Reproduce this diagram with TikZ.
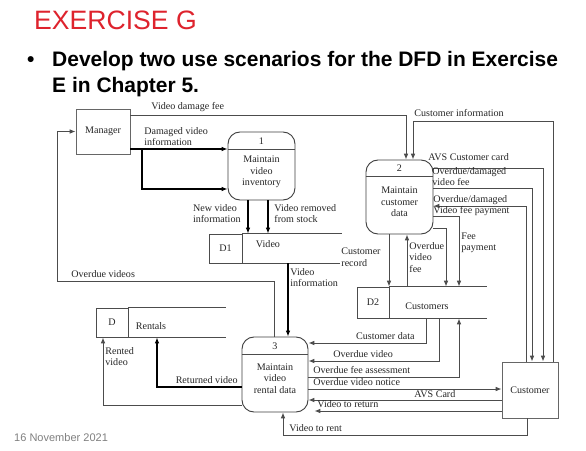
\documentclass[tikz,border=0pt]{standalone}
\usepackage{fontspec}
\setmainfont{Liberation Serif}
\newfontfamily\slidefont{Liberation Sans}
\usetikzlibrary{arrows.meta, positioning}
\definecolor{titlered}{RGB}{222,35,45}
\definecolor{footgray}{RGB}{128,128,128}

\begin{document}
\begin{tikzpicture}[x=0.03cm, y=-0.03cm,
    every node/.style={font=\fontsize{8.6}{9.8}\selectfont, text=black!85, inner sep=1pt},
    process/.style={rectangle, rounded corners=0.36cm, draw=black!75, line width=0.8pt, minimum width=2.01cm},
    entity/.style={rectangle, draw=black!60, line width=0.8pt},
    storeid/.style={rectangle, draw=black!70, line width=0.8pt, minimum width=0.96cm, minimum height=0.87cm},
    storeline/.style={draw=black!70, line width=0.8pt},
    lbl/.style={align=left},
    flow/.style={draw=black!70, line width=0.8pt, ->, >={Latex[length=5pt,width=4pt]}},
    bold flow/.style={flow, draw=black, line width=1.1pt}
    ]
    \fill[white] (0,0) rectangle (586,451);
    \useasboundingbox (0,0) rectangle (586,451);

    % Slide text
    \node (title) [anchor=base west, inner sep=0pt, text=titlered, font=\slidefont\fontsize{22.7}{26}\selectfont] at (34,30) {EXERCISE G};
    \node (bullet) [anchor=base west, inner sep=0pt, text=black, font=\slidefont\bfseries\fontsize{17.9}{22}\selectfont] at (27,67) {\textbullet};
    \node (task1) [anchor=base west, inner sep=0pt, text=black, font=\slidefont\bfseries\fontsize{17.9}{22}\selectfont] at (52,67) {Develop two use scenarios for the DFD in Exercise};
    \node (task2) [anchor=base west, inner sep=0pt, text=black, font=\slidefont\bfseries\fontsize{17.9}{22}\selectfont] at (52,93) {E in Chapter 5.};
    \node (date) [anchor=base west, inner sep=0pt, text=footgray, font=\slidefont\fontsize{9.4}{11}\selectfont] at (14,441) {16 November 2021};

    % External entities
    \node (mgr) [entity, minimum width=1.62cm, minimum height=1.35cm] at (103,131.5) {Manager};
    \node (cust) [entity, minimum width=1.68cm, minimum height=1.68cm] at (530,390) {Customer};

    % Processes
    \node (p1) [process, minimum height=2.04cm] at (261.5,166) {};
    \node (p2) [process, minimum height=2.22cm] at (399.5,197) {};
    \node (p3) [process, minimum width=1.98cm, minimum height=2.25cm] at (275,374.5) {};
    \draw[storeline] (p1.west |- 0,149) -- (p1.east |- 0,149);
    \draw[storeline] (p2.west |- 0,176) -- (p2.east |- 0,176);
    \draw[storeline] (p3.west |- 0,354) -- (p3.east |- 0,354);
    \node (p1id) at (261.5,141) {1};
    \node (p1txt) [align=center] at (261.5,172) {Maintain\\video\\inventory};
    \node (p2id) at (399.5,168) {2};
    \node (p2txt) [align=center] at (399.5,202) {Maintain\\customer\\data};
    \node (p3id) at (275,346) {3};
    \node (p3txt) [align=center] at (275,378.5) {Maintain\\video\\rental data};

    % Data stores
    \node (d1) [storeid, minimum width=0.99cm] at (225.5,248.5) {D1};
    \draw[storeline] (d1.north east) -- ++(100,0);
    \draw[storeline] (d1.south east) -- ++(98,0);
    \node (d1name) at (268,244) {Video};
    \node (d2) [storeid, minimum height=0.93cm] at (373,302.5) {D2};
    \draw[storeline] (d2.north east) -- ++(98,0);
    \draw[storeline] (d2.south east) -- ++(98,0);
    \node (d2name) at (427,306) {Customers};
    \node (d3) [storeid] at (112,322.5) {D};
    \draw[storeline] (d3.north east) -- ++(98,0);
    \draw[storeline] (d3.south east) -- ++(98,0);
    \node (d3name) at (151,326) {Rentals};

    % Flows - top
    \draw[flow] (mgr.east |- 0,115) -| (p2.north -| 406,0);
    \node (lvdf) [anchor=south west] at (150,113) {Video damage fee};
    \draw[flow] (cust.north -| 553,0) |- (413,121) -- (p2.north -| 413,0);
    \node (lci) [anchor=south west] at (413,118) {Customer information};
    \draw[bold flow] (mgr.east |- 0,149) -- (p1.west |- 0,149);
    \draw[bold flow] (142,149) |- (p1.west |- 0,189);
    \node (ldvi) [anchor=south west, lbl] at (143,147) {Damaged video\\information};

    % Flows - process 1 and D1
    \draw[bold flow] (p1.south -| 248,0) -- (d1.north -| 248,0);
    \draw[bold flow] (p1.south -| 268,0) -- (d1.north -| 268,0);
    \node (lnvi) [anchor=north east, lbl] at (242,203) {New video\\information};
    \node (lvrs) [anchor=north west, lbl] at (273,203) {Video removed\\from stock};
    \draw[bold flow] (d1.south -| 288,0) -- (p3.north -| 288,0);
    \node (lvi) [anchor=north west, lbl] at (289,267) {Video\\information};

    % Flows - process 2, D2 and customer
    \draw[flow] (p2.east |- 0,168) -| (cust.north -| 543,0);
    \node (lavs) [anchor=south west] at (427,162) {AVS Customer card};
    \draw[flow] (p2.east |- 0,188) -| (cust.north -| 532,0);
    \node (lodf) [anchor=south west, lbl] at (431,187) {Overdue/damaged\\video fee};
    \draw[flow] (cust.north -| 526,0) |- (p2.east |- 0,206);
    \node (lodp) [anchor=west, lbl] at (432,205.5) {Overdue/damaged\\Video fee payment};
    \draw[flow] (p2.east |- 0,216) -| (d2.north -| 459,0);
    \node (lfee) [anchor=north west, lbl] at (460,231) {Fee\\payment};
    \draw[flow] (p2.east |- 0,228) -| (d2.north -| 446,0);
    \draw[flow] (d2.north -| 407,0) -- (p2.south -| 407,0);
    \node (lovf) [anchor=north west, lbl] at (408,241) {Overdue\\video\\fee};
    \draw[flow] (p2.south -| 389,0) -- (d2.north -| 389,0);
    \node (lcr) [anchor=west, lbl] at (340,257) {Customer\\record};

    % Flows - process 3
    \draw[flow] (p3.north -| 274,0) |- (57,281) |- (mgr.west);
    \node (lov) [anchor=south west] at (70,279) {Overdue videos};
    \draw[flow] (p3.west |- 0,405) -| (d3.south -| 103,0);
    \node (lrv) [anchor=north west, lbl] at (104,346) {Rented\\video};
    \draw[bold flow] (p3.west |- 0,387) -| (d3.south -| 157,0);
    \node (lret) [anchor=south east] at (239,385) {Returned video};
    \draw[flow] (d2.south -| 426,0) |- (p3.east |- 0,343);
    \node (lcd) [anchor=south east] at (416,341) {Customer data};
    \draw[flow] (d2.south -| 439,0) |- (p3.east |- 0,361);
    \node (lovd) [anchor=south west] at (332,359) {Overdue video};
    \draw[flow] (p3.east |- 0,377) -| (d2.south -| 459,0);
    \node (lofa) [anchor=south west] at (312,375) {Overdue fee assessment};
    \draw[flow] (p3.east |- 0,389) -- (cust.west |- 0,389);
    \node (lovn) [anchor=south west] at (312,387.5) {Overdue video notice};
    \draw[flow] (cust.west |- 0,400) -- (p3.east |- 0,400);
    \node (lavc) [anchor=south west] at (413,399) {AVS Card};
    \draw[flow, shorten >=0.18cm] (cust.west |- 0,411) -- (p3.east |- 0,411);
    \node (lvtr) [anchor=south west] at (316,409.5) {Video to return};
    \draw[flow] (cust.south -| 527,0) |- (283,435) -- (p3.south -| 283,0);
    \node (lvtt) [anchor=south west] at (288,433) {Video to rent};

\end{tikzpicture}
\end{document}
